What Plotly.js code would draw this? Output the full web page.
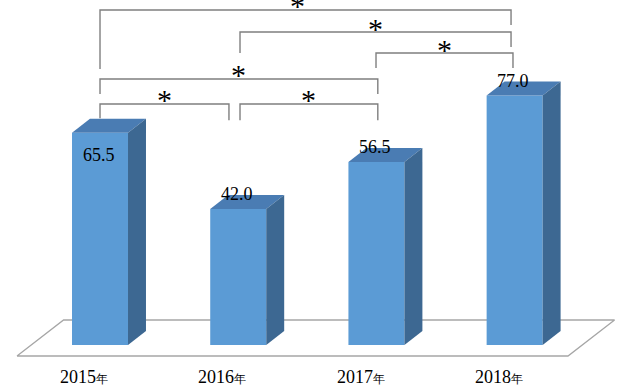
<!DOCTYPE html>
<html>
<head>
<meta charset="utf-8">
<script src="https://cdn.plot.ly/plotly-3.0.1.min.js"></script>
<style>html,body{margin:0;padding:0;background:#fff;}#chart{width:627px;height:391px;}</style>
</head>
<body>
<div id="chart"></div>
<script>
// ---- data ----
const categories = ['2015', '2016', '2017', '2018'];
const yearSuffix = '年';
const values = [65.5, 42.0, 56.5, 77.0];
const valueLabels = ['65.5', '42.0', '56.5', '77.0'];
const compFrom = [0, 1, 2, 0, 0, 1];
const compTo = [3, 3, 3, 2, 1, 2];
const compMarks = ['*', '*', '*', '*', '*', '*'];

// ---- geometry / style (not data) ----
const HW = 0.2026;      // half width of bar front face (x units)
const DX = 0.130;       // depth offset x
const DY = 4.32;        // depth offset y (value units)
const FRONT = '#5B9BD5', TOP = '#4A7CB3', SIDE = '#3D6892';
const SERIF = 'Liberation Serif';

const traces = [];

// floor (parallelogram)
const fl = {yF: -3.4, yB: 7.72, xL: -0.6006, xR: 3.386, shift: 0.337};
traces.push({
  x: [fl.xL, fl.xR, fl.xR + fl.shift, fl.xL + fl.shift, fl.xL],
  y: [fl.yF, fl.yF, fl.yB, fl.yB, fl.yF],
  mode: 'lines', fill: 'toself', fillcolor: '#ffffff',
  line: {color: '#A6A6A6', width: 1.3}, hoverinfo: 'skip'
});

// bars
categories.forEach((c, i) => {
  const v = values[i];
  const l = i - HW, r = i + HW;
  traces.push({ // front
    x: [l, r, r, l, l], y: [0, 0, v, v, 0],
    mode: 'lines', fill: 'toself', fillcolor: FRONT, line: {width: 0}, hoverinfo: 'skip'
  });
  traces.push({ // top
    x: [l, r, r + DX, l + DX, l], y: [v, v, v + DY, v + DY, v],
    mode: 'lines', fill: 'toself', fillcolor: TOP, line: {width: 0}, hoverinfo: 'skip'
  });
  traces.push({ // side
    x: [r, r + DX, r + DX, r, r], y: [0, DY, v + DY, v, 0],
    mode: 'lines', fill: 'toself', fillcolor: SIDE, line: {width: 0}, hoverinfo: 'skip'
  });
});

// significance brackets
const bracketGeom = [
  {lvl: 103.4, dl: 85.2, dr: 98.8, ol: 0.0,   or: -0.026},
  {lvl: 96.6,  dl: 90.1, dr: 92.0, ol: 0.013, or: -0.026},
  {lvl: 90.1,  dl: 85.5, dr: 85.5, ol: -0.003, or: -0.012},
  {lvl: 82.1,  dl: 77.5, dr: 77.5, ol: 0.0,   or: 0.01},
  {lvl: 74.4,  dl: 70.0, dr: 69.4, ol: 0.0,   or: -0.067},
  {lvl: 74.4,  dl: 69.4, dr: 69.4, ol: 0.013, or: 0.01}
];
const annotations = [];
compFrom.forEach((a, k) => {
  const b = compTo[k], g = bracketGeom[k];
  const xa = a + g.ol, xb = b + g.or;
  traces.push({
    x: [xa, xa, xb, xb], y: [g.dl, g.lvl, g.lvl, g.dr],
    mode: 'lines', line: {color: '#7F7F7F', width: 1.4}, hoverinfo: 'skip'
  });
  annotations.push({
    x: (xa + xb) / 2 - (k === 0 ? 0.06 : 0), y: g.lvl, xref: 'x', yref: 'y', text: compMarks[k],
    showarrow: false, xanchor: 'center', yanchor: 'middle', yshift: 4,
    font: {family: SERIF, size: 30, color: '#000'}
  });
});

// value labels
values.forEach((v, i) => {
  const inside = (i === 0);
  annotations.push({
    x: i - 0.01, y: inside ? v - 6.9 : v + 4.6, xref: 'x', yref: 'y',
    text: valueLabels[i], showarrow: false, xanchor: 'center', yanchor: 'middle',
    font: {family: SERIF, size: 18, color: '#000'}
  });
});

// category labels
categories.forEach((c, i) => {
  annotations.push({
    x: i - 0.115, y: -9.9, xref: 'x', yref: 'y',
    text: c + '<span style="font-size:12px">' + yearSuffix + '</span>',
    showarrow: false, xanchor: 'center', yanchor: 'middle',
    font: {family: SERIF, size: 18, color: '#000'}
  });
});

const layout = {
  width: 627, height: 391,
  margin: {l: 0, r: 0, t: 0, b: 0},
  paper_bgcolor: '#fff', plot_bgcolor: '#fff',
  showlegend: false,
  xaxis: {range: [-0.7236, 3.813], visible: false, fixedrange: true},
  yaxis: {range: [-14.2, 106.48], visible: false, fixedrange: true},
  annotations: annotations
};

Plotly.newPlot('chart', traces, layout, {displayModeBar: false, staticPlot: true});
</script>
</body>
</html>
